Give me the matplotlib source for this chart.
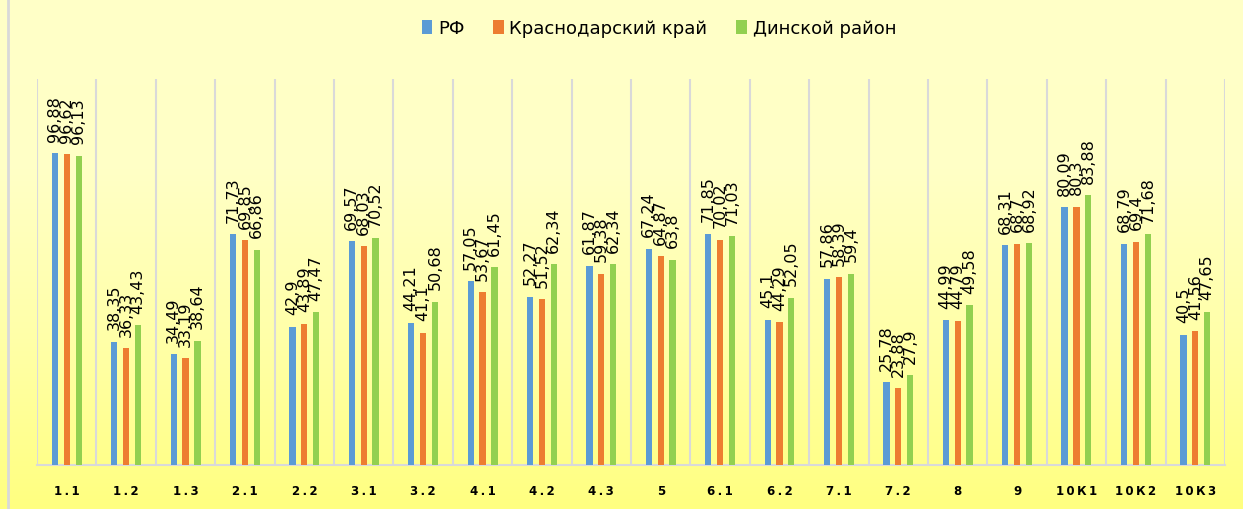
import matplotlib
matplotlib.use("Agg")
import matplotlib.pyplot as plt
import numpy as np
from matplotlib.colors import LinearSegmentedColormap

# data
categories = ["1.1", "1.2", "1.3", "2.1", "2.2", "3.1", "3.2", "4.1", "4.2", "4.3",
              "5", "6.1", "6.2", "7.1", "7.2", "8", "9", "10К1", "10К2", "10К3"]
rf = [96.88, 38.35, 34.49, 71.73, 42.9, 69.57, 44.21, 57.05, 52.27, 61.87,
      67.24, 71.85, 45.1, 57.86, 25.78, 44.99, 68.31, 80.09, 68.79, 40.5]
krai = [96.62, 36.33, 33.19, 69.85, 43.89, 68.03, 41.1, 53.67, 51.52, 59.38,
        64.87, 70.02, 44.29, 58.39, 23.88, 44.79, 68.7, 80.3, 69.4, 41.56]
rayon = [96.13, 43.43, 38.64, 66.86, 47.47, 70.52, 50.68, 61.45, 62.34, 62.34,
         63.8, 71.03, 52.05, 59.4, 27.9, 49.58, 68.92, 83.88, 71.68, 47.65]
series_names = ["РФ", "Краснодарский край", "Динской район"]
colors = ["#5B9BD5", "#ED7D31", "#92D050"]

fig = plt.figure(figsize=(12.43, 5.10), dpi=100)

# yellow gradient background
bg = fig.add_axes([0, 0, 1, 1], zorder=-10)
cmap = LinearSegmentedColormap.from_list("bg", ["#FFFF80", "#FFFFA8", "#FFFFC6", "#FFFFC8"])
grad = np.linspace(0, 1, 256).reshape(-1, 1)
bg.imshow(grad, aspect="auto", cmap=cmap, origin="lower", extent=[0, 1, 0, 1])
bg.axvline(0.0065, color="#D9D9D9", lw=2)
bg.set_xlim(0, 1)
bg.set_ylim(0, 1)
bg.axis("off")

ax = fig.add_axes([0.0298, 0.0863, 0.9557, 0.757])
ax.patch.set_alpha(0)

x = np.arange(len(categories))
w = 0.105
offsets = [-0.2, 0.0, 0.2]
for vals, off, c, name in zip([rf, krai, rayon], offsets, colors, series_names):
    ax.bar(x + off, vals, width=w, color=c, label=name, zorder=3)
    for xi, v in zip(x + off, vals):
        lab = ("%g" % v).replace(".", ",")
        ax.annotate(lab, (xi, v), xytext=(0, 9), textcoords="offset points",
                    rotation=90, ha="center", va="bottom", fontsize=11.5, zorder=4)

for b in np.arange(-0.5, len(categories), 1.0):
    ax.axvline(b, color="#D9D9D9", lw=1.5, zorder=1)

ax.set_xlim(-0.5, len(categories) - 0.5)
ax.set_ylim(0, 120)
ax.set_yticks([])
ax.set_xticks(x)
ax.set_xticklabels(["\u2009".join(c) for c in categories], fontsize=8.5, fontweight="bold")
ax.tick_params(axis="x", length=0, pad=14)
for s in ["top", "right", "left"]:
    ax.spines[s].set_visible(False)
ax.spines["bottom"].set_color("#D9D9D9")
ax.spines["bottom"].set_linewidth(1.5)

fig.legend(loc="center", bbox_to_anchor=(0.53, 0.943), ncol=3, frameon=False,
           fontsize=13, handlelength=0.6, handleheight=0.8, handletextpad=0.3,
           columnspacing=1.6)

fig.savefig("out.png", dpi=100)
